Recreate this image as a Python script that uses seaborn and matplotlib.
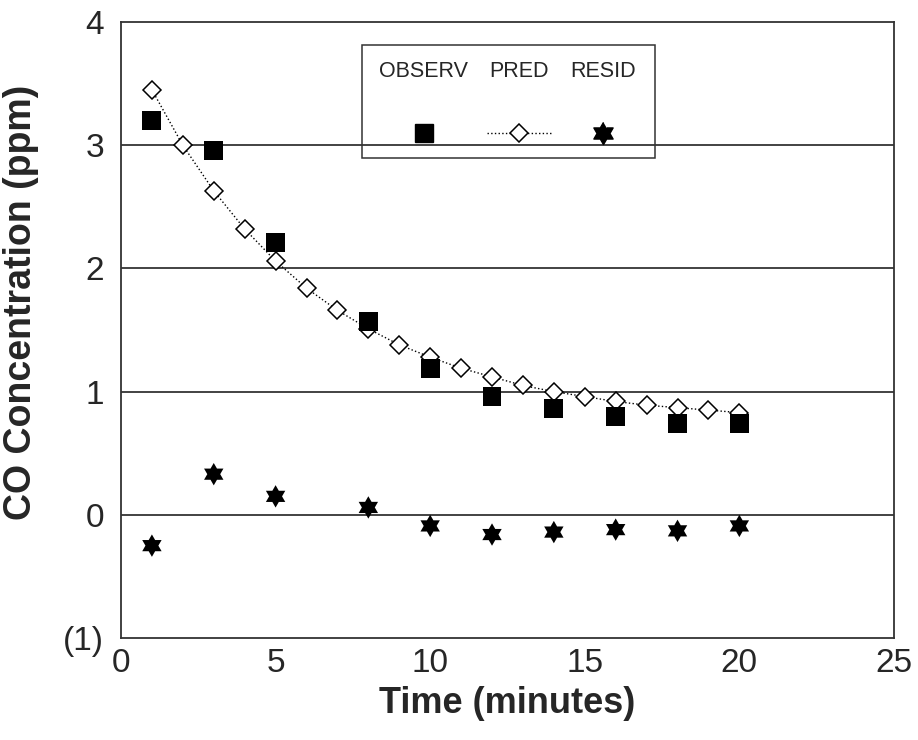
import numpy as np
import pandas as pd
import seaborn as sns
import matplotlib.pyplot as plt
from matplotlib.patches import Rectangle
from matplotlib.ticker import MultipleLocator, FixedLocator, FixedFormatter

# observed CO concentration (ppm)
obs_time = [1, 3, 5, 8, 10, 12, 14, 16, 18, 20]
obs_conc = [3.20, 2.96, 2.21, 1.57, 1.19, 0.96, 0.86, 0.80, 0.74, 0.74]

# model prediction, every minute
pred_time = list(range(1, 21))
pred_conc = [3.45, 3.00, 2.63, 2.32, 2.06, 1.84, 1.66, 1.51, 1.38, 1.28,
             1.19, 1.12, 1.05, 1.00, 0.96, 0.92, 0.89, 0.87, 0.85, 0.83]

# residuals (observed - predicted)
resid = [-0.25, 0.33, 0.15, 0.06, -0.09, -0.16, -0.14, -0.12, -0.13, -0.09]

y_ticks = [-1, 0, 1, 2, 3, 4]
y_tick_labels = ["(1)", "0", "1", "2", "3", "4"]
x_ticks = [0, 5, 10, 15, 20, 25]

obs_df = pd.DataFrame({"time": obs_time, "conc": obs_conc, "resid": resid})
pred_df = pd.DataFrame({"time": pred_time, "conc": pred_conc})

sns.set_style("white")
plt.rcParams["font.family"] = ["Liberation Sans", "DejaVu Sans"]

# six pointed star marker
ang = np.deg2rad(90 + 30 * np.arange(12))
rad = np.where(np.arange(12) % 2 == 0, 1.0, 1 / np.sqrt(3))
star = list(zip(rad * np.cos(ang), rad * np.sin(ang)))

fig = plt.figure(figsize=(9.18, 7.4), dpi=100)
ax = fig.add_axes([0.1318, 0.1378, 0.8420, 0.8324])

for g in [0, 1, 2, 3]:
    ax.axhline(g, color="#222222", lw=1.2, zorder=1)

sns.lineplot(data=pred_df, x="time", y="conc", ax=ax, color="black",
             linestyle=":", lw=1, marker="D", markersize=9,
             markerfacecolor="white", markeredgecolor="black",
             markeredgewidth=1.1, zorder=3)
sns.scatterplot(data=obs_df, x="time", y="conc", ax=ax, marker="s", s=185,
                color="black", edgecolor="none", zorder=4)
sns.scatterplot(data=obs_df, x="time", y="resid", ax=ax, marker=star, s=260,
                color="black", edgecolor="none", zorder=4)

ax.set_xlim(0, 25)
ax.set_ylim(-1, 4)
ax.xaxis.set_major_locator(FixedLocator(x_ticks))
ax.xaxis.set_minor_locator(MultipleLocator(2.5))
ax.yaxis.set_major_locator(FixedLocator(y_ticks))
ax.yaxis.set_major_formatter(FixedFormatter(y_tick_labels))
ax.yaxis.set_minor_locator(MultipleLocator(0.5))
ax.tick_params(axis="x", which="major", direction="in", length=11, width=1,
               labelsize=24, pad=7, color="#333333")
ax.tick_params(axis="x", which="minor", direction="in", length=6, width=1,
               color="#333333")
ax.tick_params(axis="y", which="major", direction="in", length=0,
               labelsize=24, pad=12)
ax.tick_params(axis="y", which="minor", direction="in", length=5.5, width=1,
               color="#333333")
for sp in ax.spines.values():
    sp.set_color("#333333")
    sp.set_linewidth(1.3)

ax.set_xlabel("Time (minutes)", fontsize=26, fontweight="bold")
ax.set_ylabel("CO Concentration (ppm)", fontsize=27, fontweight="bold")
ax.xaxis.set_label_coords(0.5, -0.078)
ax.yaxis.set_label_coords(-0.106, 0.545)

# legend box with labels above the markers
ax.add_patch(Rectangle((0.3118, 0.7792), 0.379, 0.1835, transform=ax.transAxes,
                       fill=False, edgecolor="#333333", lw=1.1, zorder=5))
for xl, lab in zip([0.392, 0.5149, 0.6235], ["OBSERV", "PRED", "RESID"]):
    ax.text(xl, 0.919, lab, transform=ax.transAxes, fontsize=15.5,
            ha="center", va="center")
ax.plot([0.392], [0.8198], marker="s", ms=13.5, color="black", ls="none",
        transform=ax.transAxes)
ax.plot([0.4735, 0.5589], [0.8198, 0.8198], color="black", ls=":", lw=1,
        transform=ax.transAxes)
ax.plot([0.5149], [0.8198], marker="D", ms=9, mfc="white", mec="black",
        mew=1.1, ls="none", transform=ax.transAxes)
ax.plot([0.6235], [0.8198], marker=star, ms=16, color="black", ls="none",
        transform=ax.transAxes)

fig.savefig("out.png", dpi=100)
